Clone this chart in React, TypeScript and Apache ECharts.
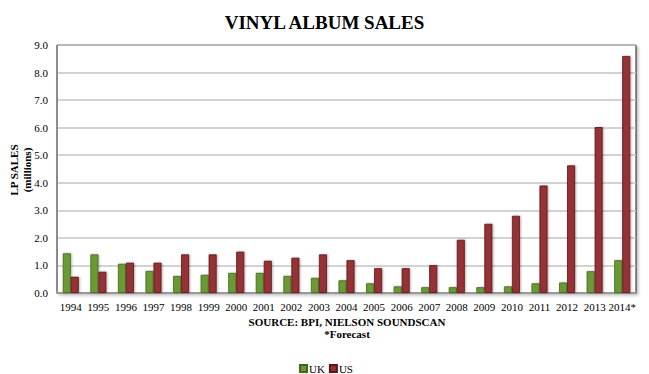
import React, { useEffect, useRef } from "react";
import * as echarts from "echarts";

const years = ["1994","1995","1996","1997","1998","1999","2000","2001","2002","2003","2004","2005","2006","2007","2008","2009","2010","2011","2012","2013","2014*"];
const ukSales = [1.44,1.40,1.06,0.80,0.62,0.66,0.73,0.73,0.62,0.55,0.46,0.35,0.24,0.21,0.21,0.21,0.24,0.35,0.38,0.79,1.19];
const usSales = [0.59,0.77,1.10,1.10,1.40,1.40,1.50,1.17,1.28,1.40,1.19,0.90,0.90,1.01,1.93,2.51,2.80,3.90,4.63,6.02,8.60];

const FONT = "'Liberation Serif', 'DejaVu Serif', serif";

export default function App() {
  const ref = useRef<HTMLDivElement>(null);
  useEffect(() => {
    const chart = echarts.init(ref.current!, null, { renderer: "svg" });
    chart.setOption({
      animation: false,
      backgroundColor: "#ffffff",
      textStyle: { fontFamily: FONT },
      title: {
        text: "VINYL ALBUM SALES",
        left: "center",
        top: 8,
        textStyle: { fontFamily: FONT, fontSize: 19, fontWeight: "bold", color: "#000" },
      },
      grid: {
        left: 57, right: 13, top: 45, bottom: 81,
        show: true, borderColor: "#222", borderWidth: 1,
        shadowColor: "rgba(0,0,0,0.25)", shadowBlur: 3, shadowOffsetX: 2, shadowOffsetY: 2,
        backgroundColor: "#fff",
      },
      legend: {
        data: ["UK", "US"],
        left: 294,
        top: 358,
        icon: "rect",
        itemWidth: 7,
        itemHeight: 7,
        itemGap: 4,
        textStyle: { fontFamily: FONT, fontSize: 11, color: "#000", padding: [0, 0, 0, -3] },
      },
      xAxis: {
        type: "category",
        data: years,
        axisLine: { lineStyle: { color: "#999", width: 2 } },
        axisTick: { show: false },
        axisLabel: { fontFamily: FONT, fontSize: 11, color: "#000", margin: 8, interval: 0 },
      },
      yAxis: {
        type: "value",
        min: 0,
        max: 9,
        interval: 1,
        axisLine: { show: true, lineStyle: { color: "#888", width: 1 } },
        axisTick: { show: false },
        axisLabel: {
          fontFamily: FONT, fontSize: 11, color: "#000", margin: 9,
          formatter: (v: number) => v.toFixed(1),
        },
        splitLine: { lineStyle: { color: "#c4c4c4", width: 1.5 } },
      },
      series: [
        {
          name: "UK",
          type: "bar",
          data: ukSales,
          barWidth: 8,
          barGap: "0%",
          itemStyle: {
            color: "#6a9a34", borderColor: "#3f6a1c", borderWidth: 0.8,
            shadowColor: "rgba(0,0,0,0.3)", shadowBlur: 2, shadowOffsetX: 1, shadowOffsetY: 0,
          },
        },
        {
          name: "US",
          type: "bar",
          data: usSales,
          barWidth: 8,
          barGap: "0%",
          itemStyle: {
            color: "#953035", borderColor: "#5e1518", borderWidth: 0.8,
            shadowColor: "rgba(0,0,0,0.3)", shadowBlur: 2, shadowOffsetX: 1, shadowOffsetY: 0,
          },
        },
      ],
      graphic: [
        {
          type: "text",
          x: 20,
          y: 170,
          rotation: Math.PI / 2,
          style: {
            text: "LP SALES\n(millions)",
            fontFamily: FONT, fontSize: 11, fontWeight: "bold", fill: "#000",
            align: "center", verticalAlign: "middle", lineHeight: 13,
          },
        },
        {
          type: "text",
          x: 347,
          y: 322,
          style: {
            text: "SOURCE: BPI, NIELSON SOUNDSCAN",
            fontFamily: FONT, fontSize: 11, fontWeight: "bold", fill: "#000",
            align: "center", verticalAlign: "middle",
          },
        },
        {
          type: "text",
          x: 347,
          y: 334,
          style: {
            text: "*Forecast",
            fontFamily: FONT, fontSize: 11, fontWeight: "bold", fill: "#000",
            align: "center", verticalAlign: "middle",
          },
        },
      ],
    });
    return () => chart.dispose();
  }, []);
  return <div ref={ref} style={{ width: 649, height: 374, position: "absolute", left: 0, top: 0 }} />;
}
